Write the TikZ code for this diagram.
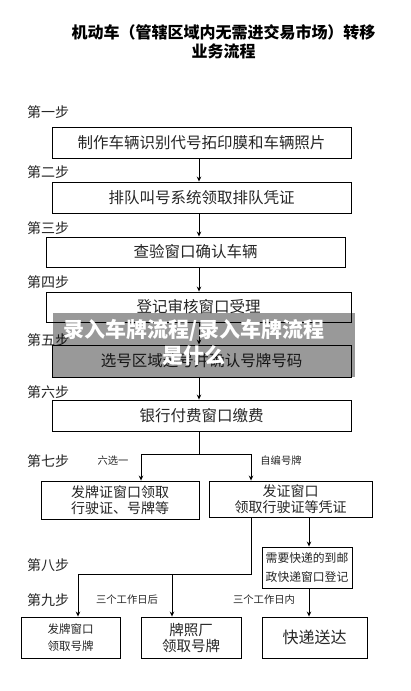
\documentclass[tikz,border=0pt]{standalone}
\usepackage{fontspec}
\setmainfont{Noto Sans CJK SC}
\usetikzlibrary{arrows.meta}
\begin{document}
\begin{tikzpicture}[x=1pt,y=-1pt,
  box/.style={draw=black,line width=0.9pt,rectangle,inner sep=0pt,align=center,text=black!85},
  arr/.style={draw=black,line width=0.9pt,-{Stealth[length=5pt,width=4.5pt]}},
  ln/.style={draw=black,line width=0.9pt},
  steplbl/.style={anchor=west,inner sep=0pt,font=\fontsize{14}{16}\selectfont,text=black!85},
  small/.style={inner sep=0pt,font=\fontsize{10.3}{12}\selectfont,text=black!85}]
\useasboundingbox (0,0) rectangle (410,691);
\fill[white] (0,0) rectangle (410,691);
% title
\node[inner sep=0pt,font=\fontsize{16}{18}\bfseries\selectfont] (t1) at (223.5,32) {机动车（管辖区域内无需进交易市场）转移};
\node[inner sep=0pt,font=\fontsize{16}{18}\bfseries\selectfont] (t2) at (223.5,51) {业务流程};
% step labels
\node[steplbl] (s1) at (27,112) {第一步};
\node[steplbl] (s2) at (27,172) {第二步};
\node[steplbl] (s3) at (27,228) {第三步};
\node[steplbl] (s4) at (27,282) {第四步};
\node[steplbl] (s5) at (27,340) {第五步};
\node[steplbl] (s6) at (27,392) {第六步};
\node[steplbl] (s7) at (27,461) {第七步};
\node[steplbl] (s8) at (27,565) {第八步};
\node[steplbl] (s9) at (27,600) {第九步};
% main boxes
\begin{scope}[every node/.append style={font=\fontsize{15.5}{17}\selectfont}]
\node[box,minimum width=299,minimum height=31] (b1) at (201.5,142.5) {制作车辆识别代号拓印膜和车辆照片};
\node[box,minimum width=299,minimum height=31] (b2) at (201.5,197.5) {排队叫号系统领取排队凭证};
\node[box,minimum width=299,minimum height=30] (b3) at (195.5,252) {查验窗口确认车辆};
\node[box,minimum width=305,minimum height=30] (b4) at (198.5,307) {登记审核窗口受理};
\node[box,minimum width=299,minimum height=32] (b5) at (201.5,361) {选号区域选号并确认号牌号码};
\node[box,minimum width=299,minimum height=31] (b6) at (201.5,415.5) {银行付费窗口缴费};
\end{scope}
\node[box,minimum width=158,minimum height=38,font=\fontsize{14}{16}\selectfont] (b7l) at (120,500) {发牌证窗口领取\\行驶证、号牌等};
\node[box,minimum width=163,minimum height=36,font=\fontsize{14}{16}\selectfont] (b7r) at (290.5,499) {发证窗口\\领取行驶证等凭证};
\node[box,minimum width=90,minimum height=41,font=\fontsize{11.8}{19}\selectfont] (b8) at (307,567.5) {需要快递的到邮\\政快递窗口登记};
\node[box,minimum width=99,minimum height=41,font=\fontsize{11.5}{17}\selectfont] (c1) at (70.5,637.5) {发牌窗口\\领取号牌};
\node[box,minimum width=100,minimum height=41,font=\fontsize{14.5}{16}\selectfont] (c2) at (191,637.5) {牌照厂\\领取号牌};
\node[box,minimum width=105,minimum height=41,font=\fontsize{16}{18}\selectfont] (c3) at (314.5,637.5) {快递送达};
% small labels
\node[small] (l1) at (113,461) {六选一};
\node[small] (l2) at (281,461) {自编号牌};
\node[small] (l3) at (127,600) {三个工作日后};
\node[small] (l4) at (264,600) {三个工作日内};
% connectors
\coordinate (sp) at (199,0);
\draw[arr] (b1.south -| sp) -- (b2.north -| sp);
\draw[arr] (b2.south -| sp) -- (b3.north -| sp);
\draw[arr] (b3.south -| sp) -- (b4.north -| sp);
\draw[arr] (b4.south -| sp) -- (b5.north -| sp);
\draw[arr] (b5.south -| sp) -- (b6.north -| sp);
\coordinate (j1) at (199,454);
\coordinate (j1l) at (141,454);
\coordinate (j1r) at (251,454);
\draw[ln] (b6.south -| sp) -- (j1);
\draw[ln] (j1l) -- (j1r);
\draw[arr] (j1l) -- (b7l.north -| j1l);
\draw[arr] (j1r) -- (b7r.north -| j1r);
\coordinate (j2) at (251,574);
\coordinate (j2l) at (78,574);
\coordinate (j2m) at (172,574);
\draw[ln] (b7r.south -| j2) -- (j2) -- (j2l);
\draw[arr] (j2l) -- (c1.north -| j2l);
\draw[arr] (j2m) -- (c2.north -| j2m);
\coordinate (x3) at (309,0);
\draw[arr] (b7r.south -| x3) -- (b8.north -| x3);
\draw[arr] (b8.south -| x3) -- (c3.north -| x3);
% watermark banner
\fill[black,opacity=0.4] (53,313) rectangle (355,377);
\node[inner sep=0pt,text=white,font=\fontsize{21}{23}\bfseries\selectfont] (w1) at (194,330) {录入车牌流程/录入车牌流程};
\node[inner sep=0pt,text=white,font=\fontsize{21}{23}\bfseries\selectfont] (w2) at (194,356) {是什么};
\end{tikzpicture}
\end{document}
